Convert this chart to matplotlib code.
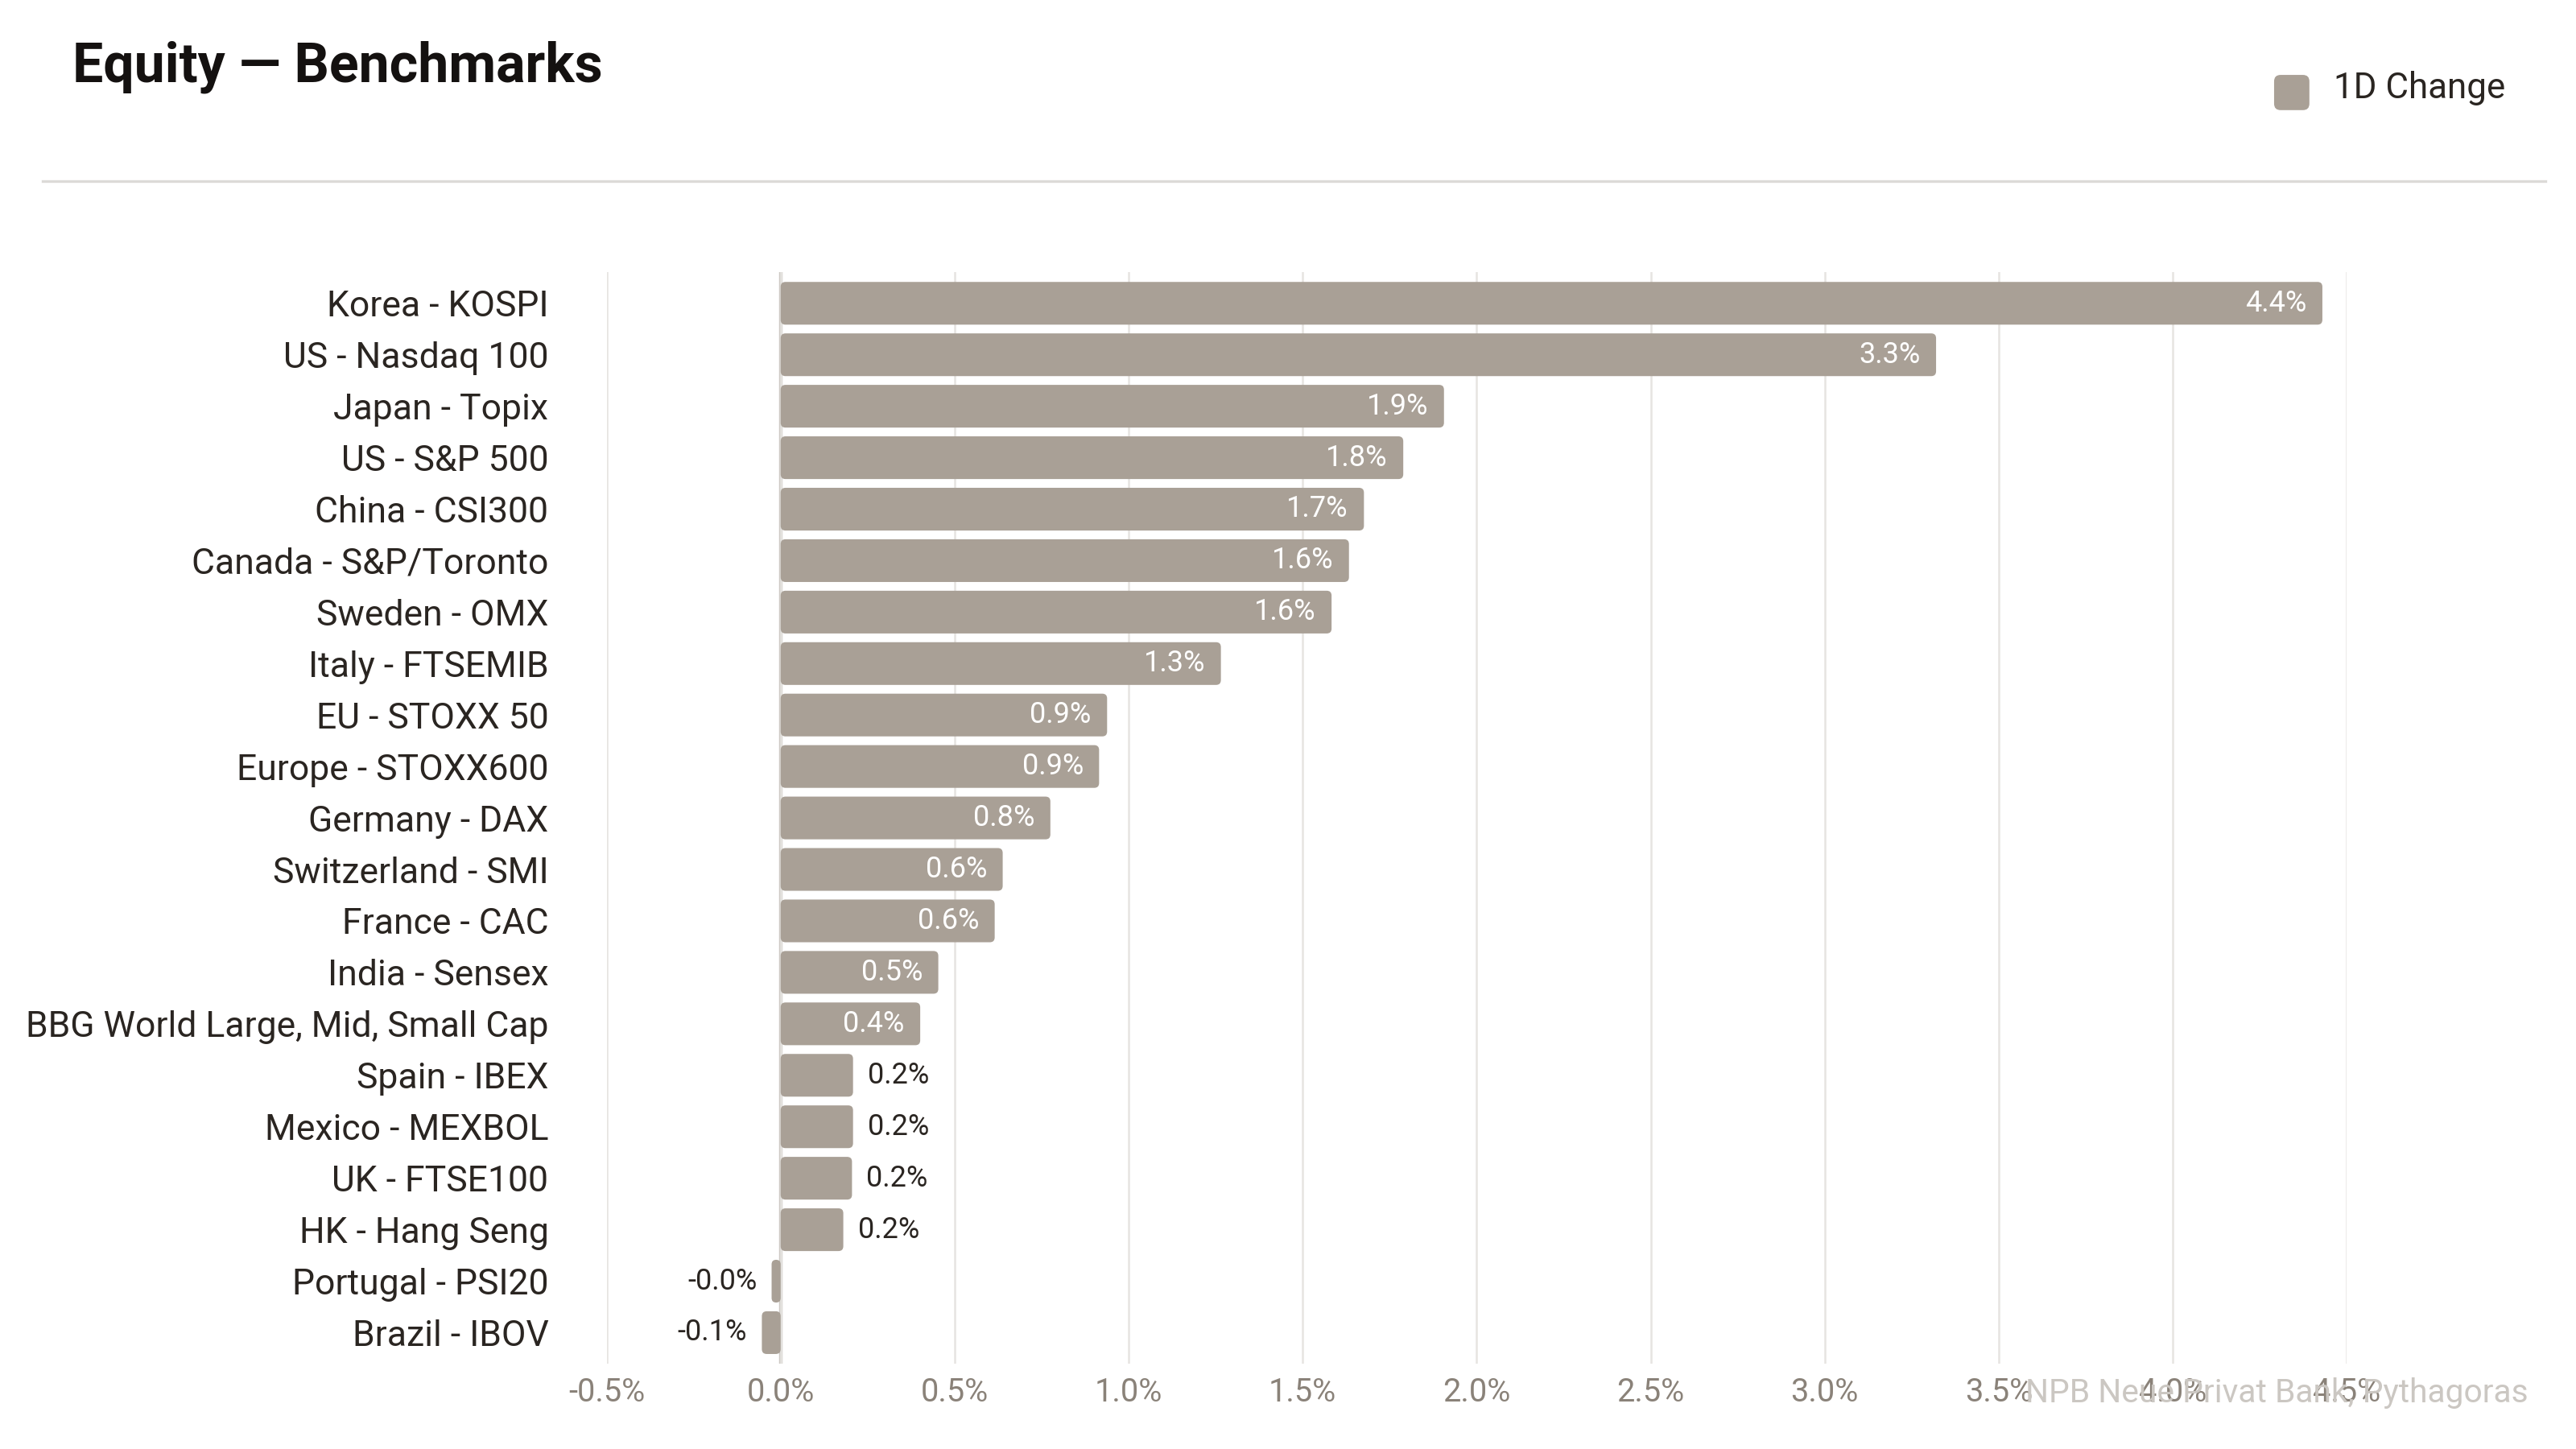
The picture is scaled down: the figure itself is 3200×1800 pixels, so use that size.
import matplotlib
matplotlib.use("Agg")
import matplotlib.pyplot as plt
from matplotlib.patches import FancyBboxPatch
from matplotlib.ticker import FuncFormatter, MultipleLocator
from matplotlib.lines import Line2D

plt.rcParams['font.family'] = ['Roboto', 'DejaVu Sans']

# data
benchmarks = ['Korea - KOSPI', 'US - Nasdaq 100', 'Japan - Topix', 'US - S&P 500',
              'China - CSI300', 'Canada - S&P/Toronto', 'Sweden - OMX', 'Italy - FTSEMIB',
              'EU - STOXX 50', 'Europe - STOXX600', 'Germany - DAX', 'Switzerland - SMI',
              'France - CAC', 'India - Sensex', 'BBG World Large, Mid, Small Cap',
              'Spain - IBEX', 'Mexico - MEXBOL', 'UK - FTSE100', 'HK - Hang Seng',
              'Portugal - PSI20', 'Brazil - IBOV']
change_1d = [4.43, 3.32, 1.906, 1.789, 1.676, 1.633, 1.583, 1.265, 0.938, 0.915, 0.775,
             0.638, 0.615, 0.453, 0.401, 0.208, 0.208, 0.205, 0.18, -0.026, -0.054]
x_ticks = [-0.5, 0.0, 0.5, 1.0, 1.5, 2.0, 2.5, 3.0, 3.5, 4.0, 4.5]

bar_col = '#a9a096'
dark = '#2a2521'
tick_col = '#8a8279'
grid_col = '#e6e4e1'

fig = plt.figure(figsize=(16, 9), dpi=200)
ax = fig.add_axes([0.2355, 0.059, 0.6755, 0.753])

ax.set_xlim(x_ticks[0], x_ticks[-1])
ax.set_ylim(len(benchmarks) - 0.4, -0.6)

# aspect of data units so rounded corners look round
fig.canvas.draw()
bb = ax.get_window_extent()
x_per_px = (x_ticks[-1] - x_ticks[0]) / bb.width
y_per_px = (len(benchmarks) - 0.4 + 0.6) / bb.height
aspect = y_per_px / x_per_px
radius = 6 * x_per_px

bar_h = 0.83
for i, (name, v) in enumerate(zip(benchmarks, change_1d)):
    x0 = min(0, v)
    w = abs(v)
    r = min(radius, w / 2)
    p = FancyBboxPatch((x0, i - bar_h / 2), w, bar_h,
                       boxstyle='round,pad=0,rounding_size=%f' % r,
                       mutation_aspect=aspect, fc=bar_col, ec='none', zorder=2)
    ax.add_patch(p)
    lbl = '%.1f%%' % v
    if v >= 0.3:
        ax.annotate(lbl, (v, i), xytext=(-7, 0), textcoords='offset points',
                    ha='right', va='center', color='white', fontsize=13, zorder=3)
    elif v >= 0:
        ax.annotate(lbl, (v, i), xytext=(6.5, 0), textcoords='offset points',
                    ha='left', va='center', color=dark, fontsize=13, zorder=3)
    else:
        ax.annotate(lbl, (v, i), xytext=(-6.5, 0), textcoords='offset points',
                    ha='right', va='center', color=dark, fontsize=13, zorder=3)

ax.set_yticks(range(len(benchmarks)))
ax.set_yticklabels(benchmarks)
ax.xaxis.set_major_locator(MultipleLocator(0.5))
ax.xaxis.set_major_formatter(FuncFormatter(lambda x, p: '%.1f%%' % x))
ax.tick_params(axis='y', length=0, pad=26, labelsize=16, labelcolor=dark)
ax.tick_params(axis='x', length=0, pad=6, labelsize=14.3, labelcolor=tick_col)
ax.grid(axis='x', color=grid_col, lw=0.9, zorder=0)
ax.axvline(0, color='#cdc9c4', lw=1.6, zorder=1)
for s in ax.spines.values():
    s.set_visible(False)

# title, rule, legend, source
fig.text(0.028, 0.954, 'Equity \u2014 Benchmarks', fontsize=24.5, fontweight='bold',
         color='#141110', va='center', ha='left')
fig.add_artist(Line2D([0.0166, 0.988], [0.875, 0.875], color='#dcdad7', lw=1.2,
                      transform=fig.transFigure))
fig.add_artist(FancyBboxPatch((0.8828, 0.924), 0.0137, 0.0243,
                              boxstyle='round,pad=0,rounding_size=0.0025',
                              mutation_aspect=16 / 9, fc=bar_col, ec='none',
                              transform=fig.transFigure))
fig.text(0.906, 0.939, '1D Change', fontsize=15.8, color=dark, va='center', ha='left')
fig.text(0.9815, 0.059 - 0.0205, 'NPB Neue Privat Bank, Pythagoras', fontsize=14.7,
         color='#cbc7c2', va='center', ha='right')

fig.savefig('out.png', dpi=200)
